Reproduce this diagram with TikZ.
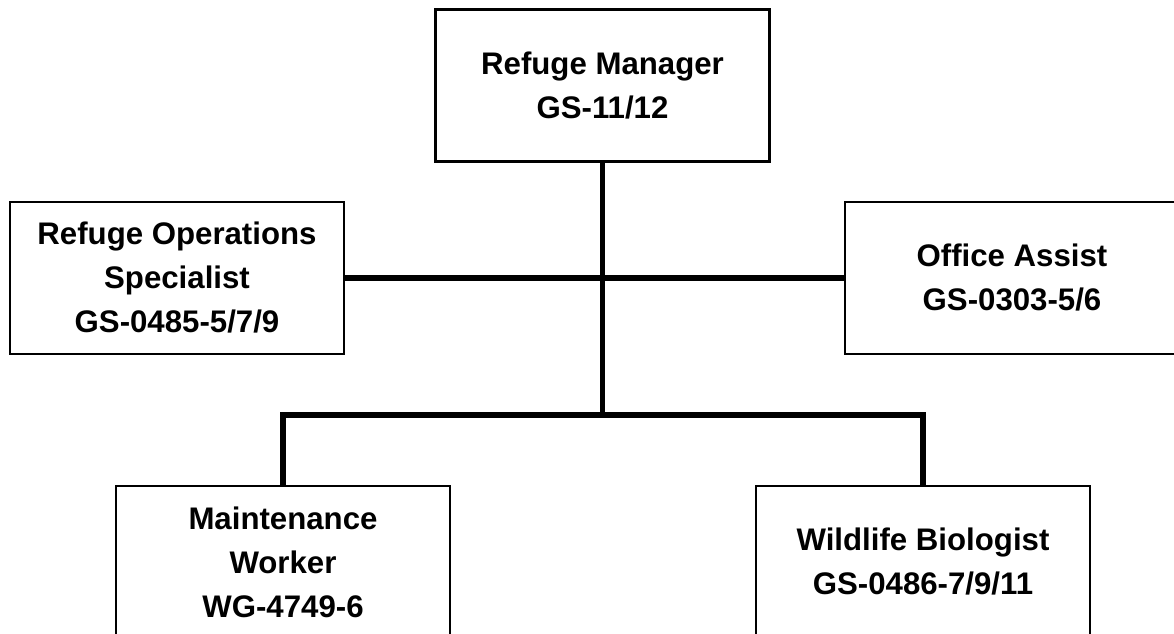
\documentclass[tikz,border=0pt]{standalone}
\usepackage{fontspec}
\setmainfont{Liberation Sans}
\begin{document}
\begin{tikzpicture}[
  x=0.5pt, y=0.5pt,
  node distance=96.25pt,
  post/.style={draw, line width=1.4pt, align=center, inner sep=0pt,
    minimum width=167pt, minimum height=76pt,
    font=\fontsize{15.6pt}{22pt}\selectfont\bfseries},
  link/.style={line width=2.8pt}
]
  \useasboundingbox (0,0) rectangle (1174,-633);
  \clip (0,0) rectangle (1174,-633);

  \node[post] (manager) at (602.5,-85.5) {Refuge Manager\\GS-11/12};
  \node[post, below of=manager, xshift=-212.75pt] (ops) {Refuge Operations\\Specialist\\GS-0485-5/7/9};
  \node[post, below of=manager, xshift=204.75pt] (office) {Office Assist\\GS-0303-5/6};
  \node[post, below of=ops, node distance=142pt, xshift=53pt] (maint) {Maintenance\\Worker\\WG-4749-6};
  \node[post, below of=office, node distance=142pt, xshift=-44.5pt] (wildlife) {Wildlife Biologist\\GS-0486-7/9/11};

  \coordinate (split) at (602.5,-415);

  \draw[link] (manager.south) -- (split);
  \draw[link] (ops) -- (office);
  \draw[link] (maint.north) |- (split) -| (wildlife.north);
\end{tikzpicture}
\end{document}
